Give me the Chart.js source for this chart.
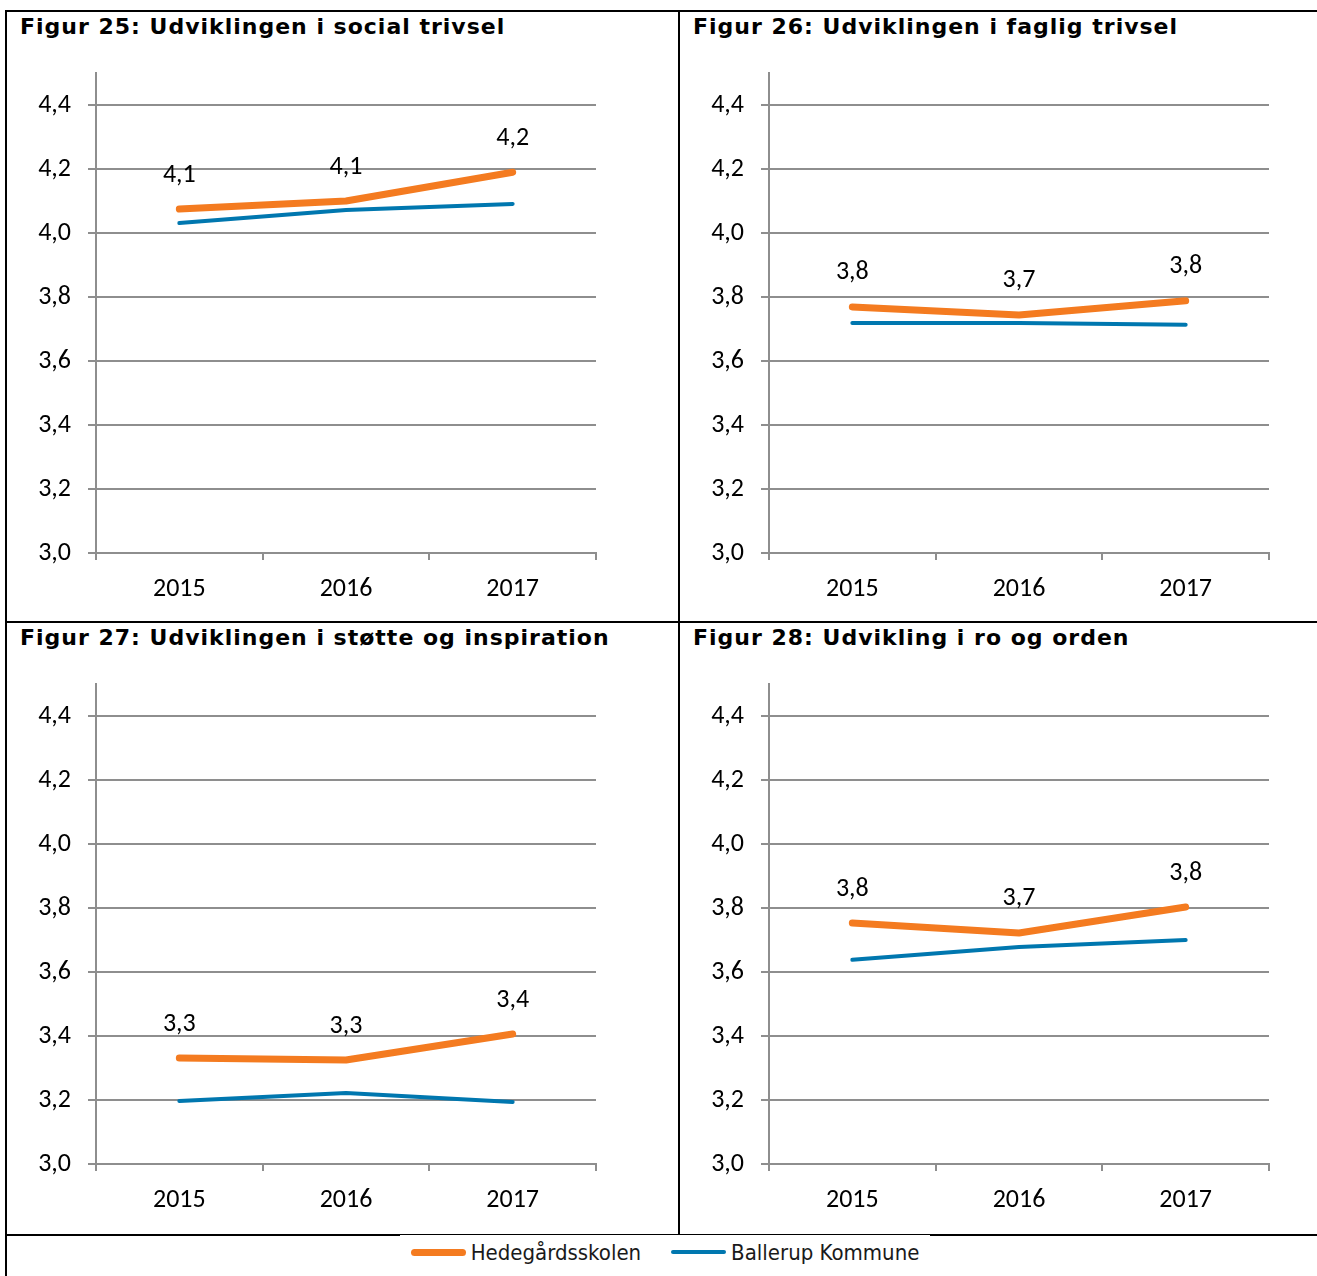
<!DOCTYPE html>
<html>
<head>
<meta charset="utf-8">
<script src="https://cdn.jsdelivr.net/npm/chart.js@4.4.1/dist/chart.umd.min.js"></script>
<style>
  body { margin: 0; background: #fff; width: 1317px; height: 1276px; overflow: hidden; position: relative; }
  .line { position: absolute; background: #000; }
  .title { position: absolute; font-family: "DejaVu Sans", Verdana, sans-serif; font-weight: bold; font-size: 22px; letter-spacing: 1px; color: #000; white-space: nowrap; }
  canvas { position: absolute; }
  #legend { position: absolute; left: 400px; top: 1235px; width: 530px; height: 34px; background: #fff; white-space: nowrap;
            display: flex; align-items: center; justify-content: center; gap: 30px; font-family: "DejaVu Sans Condensed", "DejaVu Sans", sans-serif; font-size: 22px; color: #1a1a1a; }
  .item { display: flex; align-items: center; flex: none; }
  .swatch { width: 55px; margin-right: 5px; border-radius: 4px; }
</style>
</head>
<body>
<div class="line" style="left:5px;top:10px;width:1312px;height:2px"></div>
<div class="line" style="left:5px;top:10px;width:2px;height:1266px"></div>
<div class="line" style="left:678px;top:10px;width:2px;height:1226px"></div>
<div class="line" style="left:5px;top:621px;width:1312px;height:2px"></div>
<div class="line" style="left:5px;top:1234px;width:1312px;height:2px"></div>
<div id="legend"></div>
<script>
// categories and series
const years = ['2015', '2016', '2017'];
const seriesNames = ['Hedegårdsskolen', 'Ballerup Kommune'];
const seriesColors = ['#F47B20', '#0077AF'];
const yTicks = [3.0, 3.2, 3.4, 3.6, 3.8, 4.0, 4.2, 4.4];

const titles = [
  'Figur 25: Udviklingen i social trivsel',
  'Figur 26: Udviklingen i faglig trivsel',
  'Figur 27: Udviklingen i støtte og inspiration',
  'Figur 28: Udvikling i ro og orden'
];

// Hedegårdsskolen per figure
const hedegaard25 = [4.075, 4.10, 4.19];
const hedegaard26 = [3.769, 3.744, 3.788];
const hedegaard27 = [3.331, 3.325, 3.406];
const hedegaard28 = [3.753, 3.722, 3.803];

// Ballerup Kommune per figure
const ballerup25 = [4.031, 4.072, 4.091];
const ballerup26 = [3.719, 3.719, 3.713];
const ballerup27 = [3.197, 3.222, 3.194];
const ballerup28 = [3.638, 3.678, 3.700];

const panels = [
  { x: 6, y: 11, school: hedegaard25, town: ballerup25 },
  { x: 679, y: 11, school: hedegaard26, town: ballerup26 },
  { x: 6, y: 622, school: hedegaard27, town: ballerup27 },
  { x: 679, y: 622, school: hedegaard28, town: ballerup28 }
];

const tickFont = { family: "Carlito, 'Open Sans', sans-serif", size: 26 };
const gridGray = '#8e8e8e';
const padTop = 40;

function fmt(v) {
  return v.toFixed(1).replace('.', ',');
}

// draws the value above each orange point
const valueLabels = {
  id: 'valueLabels',
  afterDatasetsDraw(chart) {
    const ctx = chart.ctx;
    const meta = chart.getDatasetMeta(0);
    const data = chart.data.datasets[0].data;
    ctx.save();
    ctx.font = tickFont.size + 'px ' + tickFont.family;
    ctx.fillStyle = '#000';
    ctx.textAlign = 'center';
    ctx.textBaseline = 'middle';
    meta.data.forEach((pt, i) => {
      ctx.fillText(fmt(data[i]), pt.x, pt.y - 34);
    });
    ctx.restore();
  }
};

panels.forEach((p, k) => {
  let t = document.createElement('div');
  t.className = 'title';
  t.style.left = (p.x + 14) + 'px';
  t.style.top = (p.y + 3) + 'px';
  t.textContent = titles[k];
  document.body.appendChild(t);

  // plot area: top (4.5) at p.y+62, bottom (3.0) at p.y+542
  let canvas = document.createElement('canvas');
  canvas.width = 600;
  canvas.height = padTop + 480 + 50;
  canvas.style.left = p.x + 'px';
  canvas.style.top = (p.y + 62 - padTop) + 'px';
  document.body.appendChild(canvas);

  new Chart(canvas, {
    type: 'line',
    data: {
      labels: years,
      datasets: [
        { label: seriesNames[0], data: p.school, borderColor: seriesColors[0], borderWidth: 7,
          borderCapStyle: 'round', borderJoinStyle: 'round', pointRadius: 0, tension: 0 },
        { label: seriesNames[1], data: p.town, borderColor: seriesColors[1], borderWidth: 4,
          borderCapStyle: 'round', borderJoinStyle: 'round', pointRadius: 0, tension: 0 }
      ]
    },
    options: {
      responsive: false,
      animation: false,
      layout: { padding: { top: padTop, right: 10, left: 0, bottom: 0 } },
      plugins: { legend: { display: false }, tooltip: { enabled: false } },
      scales: {
        x: {
          type: 'category',
          offset: true,
          grid: { offset: true, drawOnChartArea: false, drawTicks: true, tickLength: 7, color: gridGray, lineWidth: 2 },
          border: { display: true, color: gridGray, width: 2 },
          ticks: { font: tickFont, color: '#000', padding: 14, maxRotation: 0 },
          afterFit(scale) { scale.height = 50; }
        },
        y: {
          min: 3.0,
          max: 4.5,
          grid: { color: gridGray, lineWidth: 2, drawTicks: true, tickLength: 8 },
          border: { display: true, color: gridGray, width: 2 },
          ticks: { font: tickFont, color: '#000', padding: 17, callback: v => fmt(v) },
          afterBuildTicks(scale) { scale.ticks = yTicks.map(v => ({ value: v })); },
          afterFit(scale) { scale.width = 90; }
        }
      }
    },
    plugins: [valueLabels]
  });
});

// shared legend row
const legend = document.getElementById('legend');
seriesNames.forEach((name, i) => {
  let item = document.createElement('div');
  item.className = 'item';
  let sw = document.createElement('div');
  sw.className = 'swatch';
  sw.style.background = seriesColors[i];
  sw.style.height = (i === 0 ? 7 : 4) + 'px';
  let txt = document.createElement('span');
  txt.textContent = name;
  item.appendChild(sw);
  item.appendChild(txt);
  legend.appendChild(item);
});
</script>
</body>
</html>
